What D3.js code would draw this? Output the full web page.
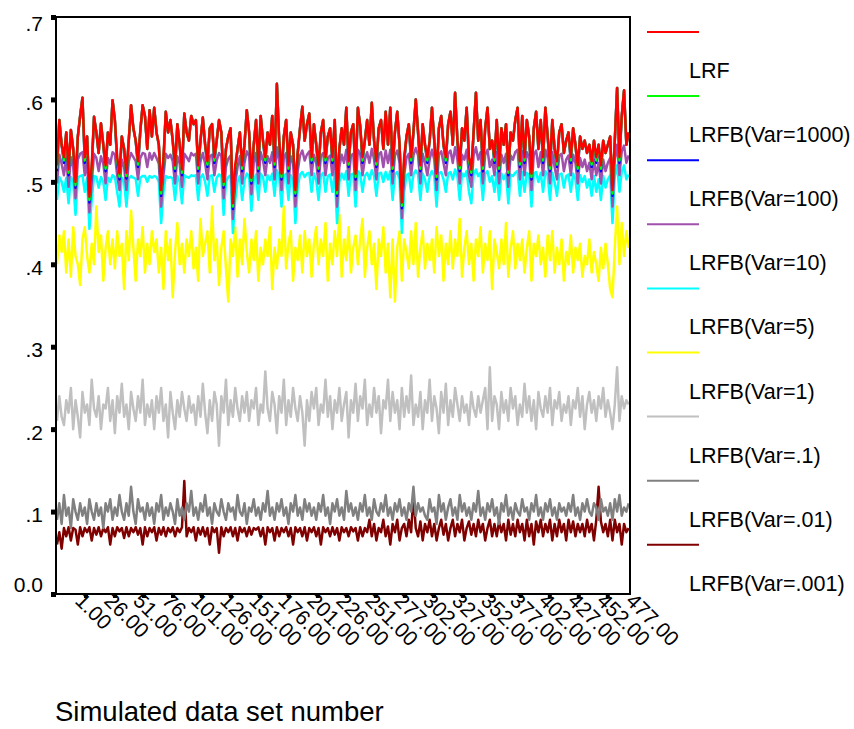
<!DOCTYPE html>
<html><head><meta charset="utf-8">
<script src="https://cdn.jsdelivr.net/npm/d3@7"></script>
<style>
body{margin:0;background:#fff}
svg{display:block}
text{font-family:"Liberation Sans",Arial,Helvetica,sans-serif;fill:#000}
</style>
</head><body><svg id="c" width="854" height="729"></svg>
<script>
// ---------- DATA ----------
const seriesNames = ["LRF","LRFB(Var=1000)","LRFB(Var=100)","LRFB(Var=10)","LRFB(Var=5)","LRFB(Var=1)","LRFB(Var=.1)","LRFB(Var=.01)","LRFB(Var=.001)"];
const tickLabels = ["1.00","26.00","51.00","76.00","101.00","126.00","151.00","176.00","201.00","226.00","251.00","277.00","302.00","327.00","352.00","377.00","402.00","427.00","452.00","477.00"];
const yTickValues = [0,.1,.2,.3,.4,.5,.6,.7];
const yTickLabels = ["0.0",".1",".2",".3",".4",".5",".6",".7"];

const lrf = [.52,.575,.545,.53,.56,.515,.563,.54,.50,.555,
.58,.602,.53,.555,.482,.52,.579,.56,.535,.571,
.545,.52,.56,.545,.599,.575,.53,.51,.555,.54,
.511,.55,.593,.565,.55,.525,.562,.593,.58,.54,
.587,.555,.59,.56,.545,.49,.53,.585,.56,.575,
.55,.52,.57,.545,.515,.583,.56,.55,.58,.57,
.575,.52,.55,.578,.545,.525,.565,.57,.53,.55,
.575,.56,.50,.54,.555,.565,.474,.52,.54,.56,
.52,.545,.587,.56,.505,.545,.575,.52,.58,.55,
.53,.56,.545,.58,.525,.619,.55,.51,.555,.575,
.52,.56,.545,.49,.535,.565,.591,.55,.57,.583,
.53,.57,.545,.52,.56,.575,.53,.555,.565,.53,
.575,.49,.54,.565,.545,.59,.525,.56,.57,.51,
.59,.568,.53,.55,.575,.545,.596,.55,.525,.565,
.575,.54,.585,.545,.59,.52,.56,.585,.545,.475,
.53,.555,.57,.53,.56,.60,.56,.52,.57,.545,
.53,.55,.59,.55,.51,.565,.58,.545,.53,.57,
.585,.545,.608,.55,.52,.565,.55,.59,.53,.515,
.56,.608,.55,.575,.52,.565,.59,.54,.55,.53,
.575,.52,.565,.545,.57,.515,.56,.55,.575,.59,
.525,.58,.53,.575,.555,.51,.565,.585,.54,.575,
.53,.59,.555,.52,.575,.54,.525,.56,.57,.535,
.55,.56,.53,.565,.545,.52,.555,.54,.55,.535,
.545,.525,.55,.53,.545,.52,.55,.535,.545,.555,
.49,.55,.614,.53,.58,.611,.545,.56];

const var1000 = [.516,.575,.545,.526,.56,.511,.563,.54,.496,.555,
.58,.602,.526,.555,.478,.516,.579,.56,.535,.571,
.545,.516,.56,.545,.599,.575,.526,.506,.555,.54,
.507,.55,.593,.565,.55,.521,.562,.593,.58,.54,
.587,.555,.59,.56,.545,.486,.526,.585,.56,.575,
.55,.516,.57,.545,.511,.583,.56,.55,.58,.57,
.575,.516,.55,.578,.545,.521,.565,.57,.526,.55,
.575,.56,.496,.54,.555,.565,.47,.516,.54,.56,
.516,.545,.587,.56,.501,.545,.575,.516,.58,.55,
.526,.56,.545,.58,.521,.619,.55,.506,.555,.575,
.516,.56,.545,.486,.535,.565,.591,.55,.57,.583,
.526,.57,.545,.516,.56,.575,.526,.555,.565,.526,
.575,.486,.54,.565,.545,.59,.521,.56,.57,.506,
.59,.568,.526,.55,.575,.545,.596,.55,.521,.565,
.575,.54,.585,.545,.59,.516,.56,.585,.545,.471,
.526,.555,.57,.526,.56,.60,.56,.516,.57,.545,
.526,.55,.59,.55,.506,.565,.58,.545,.526,.57,
.585,.545,.608,.55,.516,.565,.55,.59,.526,.511,
.56,.608,.55,.575,.516,.565,.59,.54,.55,.526,
.575,.516,.565,.545,.57,.511,.56,.55,.575,.59,
.521,.58,.526,.575,.555,.506,.565,.585,.54,.575,
.526,.59,.555,.516,.575,.54,.521,.56,.57,.535,
.55,.56,.526,.565,.545,.516,.555,.54,.55,.535,
.545,.521,.55,.526,.545,.516,.55,.535,.545,.555,
.486,.55,.614,.526,.58,.611,.545,.56];

const var100 = [.513,.575,.545,.523,.56,.508,.563,.54,.493,.555,
.58,.602,.523,.555,.475,.513,.579,.56,.535,.571,
.545,.513,.56,.545,.599,.575,.523,.503,.555,.54,
.504,.55,.593,.565,.55,.518,.562,.593,.58,.54,
.587,.555,.59,.56,.545,.483,.523,.585,.56,.575,
.55,.513,.57,.545,.508,.583,.56,.55,.58,.57,
.575,.513,.55,.578,.545,.518,.565,.57,.523,.55,
.575,.56,.493,.54,.555,.565,.467,.513,.54,.56,
.513,.545,.587,.56,.498,.545,.575,.513,.58,.55,
.523,.56,.545,.58,.518,.619,.55,.503,.555,.575,
.513,.56,.545,.483,.535,.565,.591,.55,.57,.583,
.523,.57,.545,.513,.56,.575,.523,.555,.565,.523,
.575,.483,.54,.565,.545,.59,.518,.56,.57,.503,
.59,.568,.523,.55,.575,.545,.596,.55,.518,.565,
.575,.54,.585,.545,.59,.513,.56,.585,.545,.468,
.523,.555,.57,.523,.56,.60,.56,.513,.57,.545,
.523,.55,.59,.55,.503,.565,.58,.545,.523,.57,
.585,.545,.608,.55,.513,.565,.55,.59,.523,.508,
.56,.608,.55,.575,.513,.565,.59,.54,.55,.523,
.575,.513,.565,.545,.57,.508,.56,.55,.575,.59,
.518,.58,.523,.575,.555,.503,.565,.585,.54,.575,
.523,.59,.555,.513,.575,.54,.518,.56,.57,.535,
.55,.56,.523,.565,.545,.513,.555,.54,.55,.535,
.545,.518,.55,.523,.545,.513,.55,.535,.545,.555,
.483,.55,.614,.523,.58,.611,.545,.56];

const var10 = [.498,.533,.522,.508,.529,.494,.53,.518,.48,.527,
.534,.536,.508,.527,.463,.498,.534,.529,.513,.531,
.522,.498,.529,.522,.536,.533,.508,.49,.527,.518,
.49,.525,.535,.53,.525,.503,.529,.535,.534,.518,
.535,.527,.535,.529,.522,.47,.508,.534,.529,.533,
.525,.498,.531,.522,.494,.534,.53,.525,.535,.532,
.534,.498,.525,.535,.522,.503,.531,.533,.508,.526,
.535,.531,.48,.518,.528,.532,.455,.498,.518,.531,
.498,.523,.537,.531,.485,.523,.535,.498,.536,.526,
.508,.531,.523,.536,.503,.542,.526,.49,.529,.535,
.498,.531,.523,.47,.513,.532,.538,.526,.533,.537,
.508,.533,.523,.498,.531,.535,.508,.529,.532,.508,
.536,.47,.518,.533,.523,.539,.503,.532,.534,.49,
.539,.534,.508,.527,.536,.523,.54,.527,.503,.533,
.536,.518,.538,.523,.539,.498,.532,.538,.523,.456,
.508,.529,.534,.508,.532,.541,.532,.498,.534,.523,
.508,.527,.539,.527,.49,.533,.537,.523,.508,.534,
.538,.523,.542,.527,.498,.533,.527,.539,.508,.494,
.532,.542,.527,.536,.498,.533,.539,.518,.527,.508,
.536,.498,.533,.523,.534,.494,.532,.527,.536,.539,
.503,.537,.508,.536,.529,.49,.533,.538,.518,.536,
.508,.539,.529,.498,.536,.518,.503,.532,.534,.513,
.527,.532,.508,.533,.523,.498,.529,.518,.527,.513,
.523,.503,.527,.508,.523,.498,.527,.513,.523,.529,
.47,.527,.545,.508,.537,.544,.523,.532];

const var5 = [.478,.506,.50,.488,.505,.474,.506,.50,.46,.505,
.507,.508,.488,.505,.443,.478,.507,.506,.493,.506,
.50,.478,.505,.50,.508,.506,.488,.47,.505,.50,
.47,.504,.507,.505,.504,.483,.505,.507,.507,.50,
.507,.505,.507,.506,.50,.45,.488,.507,.505,.506,
.504,.478,.507,.50,.474,.508,.506,.505,.508,.507,
.508,.478,.505,.509,.50,.483,.507,.508,.488,.505,
.509,.507,.46,.50,.506,.508,.438,.478,.50,.507,
.478,.502,.51,.507,.465,.502,.509,.478,.51,.506,
.488,.508,.502,.51,.483,.514,.506,.47,.507,.51,
.478,.508,.502,.45,.493,.509,.512,.506,.51,.511,
.488,.51,.502,.478,.508,.511,.488,.507,.509,.488,
.511,.45,.50,.51,.503,.513,.483,.509,.51,.47,
.513,.51,.488,.507,.511,.503,.514,.507,.483,.51,
.511,.50,.512,.503,.513,.478,.509,.512,.503,.438,
.488,.508,.51,.488,.509,.514,.509,.478,.51,.503,
.488,.507,.513,.507,.47,.51,.512,.503,.488,.51,
.512,.503,.515,.507,.478,.51,.507,.513,.488,.474,
.509,.515,.507,.511,.478,.51,.513,.50,.507,.488,
.511,.478,.51,.503,.51,.474,.509,.507,.511,.513,
.483,.512,.488,.511,.508,.47,.51,.512,.50,.511,
.488,.513,.508,.478,.511,.50,.483,.509,.51,.493,
.507,.509,.488,.51,.503,.478,.508,.50,.507,.493,
.503,.483,.507,.488,.503,.478,.507,.493,.503,.508,
.45,.507,.52,.488,.512,.52,.503,.509];

const var1 = [.40,.435,.415,.44,.39,.43,.385,.445,.41,.40,
.375,.43,.445,.41,.39,.425,.40,.47,.415,.435,
.38,.42,.44,.40,.43,.395,.44,.41,.425,.37,
.44,.405,.465,.42,.38,.43,.41,.445,.39,.425,
.40,.44,.415,.43,.39,.42,.37,.44,.405,.43,
.36,.415,.45,.40,.425,.39,.43,.41,.44,.395,
.42,.38,.455,.41,.425,.44,.39,.47,.405,.43,
.375,.42,.44,.395,.355,.43,.41,.445,.385,.43,
.40,.455,.415,.39,.43,.405,.44,.38,.42,.40,
.43,.41,.445,.37,.42,.395,.43,.41,.47,.395,
.425,.44,.38,.42,.405,.435,.39,.44,.41,.43,
.385,.425,.445,.40,.43,.41,.45,.38,.425,.40,
.44,.41,.46,.385,.43,.405,.445,.39,.42,.435,
.40,.43,.455,.385,.42,.44,.40,.425,.37,.43,
.41,.445,.39,.425,.36,.43,.355,.42,.44,.38,
.43,.415,.395,.44,.40,.45,.385,.42,.44,.395,
.425,.405,.43,.39,.445,.41,.435,.38,.425,.40,
.44,.395,.43,.41,.455,.385,.42,.44,.40,.425,
.38,.43,.41,.445,.39,.425,.405,.44,.37,.43,
.415,.395,.43,.40,.45,.385,.42,.44,.395,.425,
.405,.43,.39,.42,.44,.38,.425,.41,.435,.40,
.42,.385,.435,.405,.44,.39,.42,.40,.43,.38,
.415,.40,.435,.39,.42,.405,.425,.385,.41,.40,
.43,.39,.415,.40,.38,.42,.395,.425,.40,.37,
.36,.42,.47,.40,.45,.41,.44,.42];

const var01 = [.21,.24,.215,.205,.235,.22,.25,.20,.235,.215,
.19,.245,.22,.23,.205,.26,.225,.215,.24,.20,
.23,.225,.25,.21,.235,.195,.24,.22,.255,.215,
.23,.20,.245,.225,.21,.24,.22,.26,.205,.23,
.215,.235,.20,.24,.22,.25,.21,.23,.19,.245,
.22,.20,.235,.215,.245,.225,.21,.24,.22,.23,
.205,.24,.215,.255,.22,.195,.235,.21,.245,.23,
.18,.24,.22,.26,.205,.235,.215,.25,.225,.21,
.24,.22,.245,.21,.235,.225,.25,.205,.23,.22,
.27,.225,.21,.245,.23,.195,.24,.22,.26,.205,
.235,.215,.25,.225,.21,.24,.22,.18,.235,.21,
.245,.225,.25,.205,.23,.22,.26,.215,.24,.20,
.235,.22,.25,.21,.23,.245,.19,.235,.22,.255,
.21,.24,.225,.26,.205,.23,.215,.25,.22,.24,
.195,.235,.225,.26,.21,.245,.22,.235,.20,.25,
.215,.24,.22,.265,.205,.23,.215,.245,.20,.235,
.22,.26,.21,.24,.225,.195,.245,.22,.255,.205,
.235,.215,.25,.23,.21,.24,.22,.23,.205,.245,
.225,.215,.24,.22,.235,.25,.20,.275,.21,.24,
.23,.20,.245,.22,.235,.21,.25,.225,.24,.205,
.23,.215,.255,.22,.24,.21,.235,.20,.245,.225,
.215,.24,.22,.25,.205,.235,.225,.245,.21,.23,
.22,.24,.205,.235,.225,.25,.215,.24,.20,.23,
.245,.22,.235,.21,.24,.225,.25,.215,.235,.22,
.20,.23,.275,.21,.24,.225,.235,.23];

const var001 = [.09,.11,.085,.12,.095,.105,.08,.115,.10,.09,
.11,.095,.105,.085,.115,.10,.09,.11,.095,.105,
.08,.11,.10,.115,.09,.105,.095,.12,.10,.09,
.11,.095,.13,.10,.085,.115,.10,.105,.09,.11,
.095,.105,.085,.11,.10,.12,.09,.105,.095,.11,
.10,.085,.115,.095,.105,.09,.11,.10,.125,.095,
.105,.09,.11,.10,.12,.095,.105,.085,.11,.10,
.095,.115,.10,.09,.11,.10,.105,.09,.12,.10,
.095,.11,.085,.105,.10,.115,.095,.105,.09,.11,
.10,.125,.095,.105,.09,.11,.10,.115,.095,.105,
.085,.11,.10,.12,.095,.105,.09,.115,.10,.11,
.095,.105,.09,.11,.10,.12,.095,.105,.085,.11,
.10,.115,.095,.105,.09,.125,.10,.11,.095,.105,
.09,.11,.10,.12,.095,.105,.09,.115,.10,.095,
.11,.10,.12,.095,.105,.09,.11,.10,.115,.095,
.105,.09,.11,.10,.13,.095,.11,.10,.105,.095,
.09,.115,.10,.105,.085,.12,.10,.11,.09,.105,
.115,.095,.105,.09,.12,.10,.11,.095,.105,.09,
.11,.10,.125,.095,.105,.09,.11,.10,.115,.095,
.105,.085,.11,.10,.12,.095,.105,.09,.11,.10,
.095,.115,.10,.105,.09,.11,.10,.12,.095,.105,
.09,.11,.10,.115,.095,.105,.09,.11,.10,.105,
.095,.11,.10,.12,.095,.105,.09,.11,.10,.115,
.10,.095,.11,.105,.09,.115,.10,.105,.095,.11,
.09,.115,.10,.12,.095,.105,.10,.11];

const var0001 = [.06,.075,.055,.08,.07,.081,.065,.08,.078,.06,
.081,.07,.08,.075,.081,.065,.08,.072,.081,.07,
.08,.075,.081,.06,.08,.07,.081,.076,.08,.068,
.081,.07,.08,.075,.081,.072,.08,.06,.081,.07,
.08,.075,.081,.065,.08,.072,.081,.07,.08,.075,
.081,.07,.08,.075,.081,.137,.07,.08,.075,.081,
.065,.08,.072,.081,.07,.08,.06,.081,.075,.08,
.05,.081,.07,.08,.075,.081,.07,.08,.065,.081,
.075,.08,.07,.081,.072,.08,.078,.081,.07,.08,
.06,.081,.075,.08,.065,.081,.07,.08,.075,.081,
.07,.08,.06,.081,.075,.08,.07,.081,.065,.08,
.075,.081,.07,.08,.06,.081,.075,.08,.07,.081,
.072,.08,.065,.081,.075,.08,.07,.081,.076,.08,
.065,.081,.07,.08,.075,.09,.07,.085,.065,.08,
.075,.09,.07,.082,.06,.085,.075,.09,.065,.08,
.085,.07,.09,.075,.12,.08,.07,.088,.065,.085,
.075,.09,.07,.085,.065,.08,.09,.072,.085,.065,
.08,.09,.07,.085,.075,.09,.065,.08,.088,.072,
.085,.07,.09,.075,.085,.065,.08,.09,.07,.085,
.07,.088,.075,.085,.065,.09,.072,.085,.07,.09,
.075,.085,.065,.09,.07,.085,.06,.088,.075,.09,
.07,.085,.075,.09,.065,.085,.07,.09,.075,.085,
.065,.09,.075,.088,.07,.085,.075,.085,.07,.09,
.075,.085,.065,.09,.13,.088,.075,.085,.07,.09,
.065,.09,.075,.085,.06,.085,.075,.08];

const seriesValues = [lrf, var1000, var100, var10, var5, var1, var01, var001, var0001];
const seriesColors = ["#ff0000","#00ff00","#0000ff","#a150ac","#00ffff","#ffff00","#c0c0c0","#808080","#800000"];

// ---------- LAYOUT ----------
const plot = {left:56, right:630, top:17, bottom:594};
const caseSpan = 495;   // simulated data sets spanned by the category axis
const tickStep = 25;

const svg = d3.select("#c");
const x = d3.scaleLinear().domain([0, caseSpan]).range([plot.left + 1, plot.right + 1]);
const y = d3.scaleLinear().domain([0, 0.7]).range([plot.bottom, plot.top]);

svg.append("clipPath").attr("id","pc").append("rect")
  .attr("x", plot.left).attr("y", plot.top)
  .attr("width", plot.right - plot.left).attr("height", plot.bottom - plot.top);

const g = svg.append("g").attr("clip-path","url(#pc)");
const line = d3.line()
  .x((d,i,arr) => x(i * caseSpan / arr.length))
  .y(d => y(d));

// LRF drawn last (on top)
for (let s = seriesValues.length - 1; s >= 0; s--) {
  g.append("path")
    .datum(seriesValues[s])
    .attr("fill","none")
    .attr("stroke", seriesColors[s])
    .attr("stroke-width", 2.5)
    .attr("stroke-linejoin","round")
    .attr("d", line);
}

// frame
svg.append("rect")
  .attr("x", plot.left).attr("y", plot.top)
  .attr("width", plot.right - plot.left).attr("height", plot.bottom - plot.top)
  .attr("fill","none").attr("stroke","#000").attr("stroke-width",2);

// y axis
const yAxis = svg.append("g");
yTickValues.forEach((v,i) => {
  yAxis.append("rect").attr("x", plot.left - 5).attr("y", y(v) - 2)
    .attr("width", 5).attr("height", 5).attr("fill","#000");
  let dy = 10.5;
  if (i === 0) dy = -2.5;
  if (i === yTickValues.length - 1) dy = 13.5;
  yAxis.append("text").attr("x", 43).attr("y", y(v) + dy)
    .attr("text-anchor","end").attr("font-size", 21).text(yTickLabels[i]);
});

// x axis
const xAxis = svg.append("g");
tickLabels.forEach((lab,k) => {
  const tx = x((k + 1) * tickStep);
  if (tx < plot.right - 2) {
    xAxis.append("rect").attr("x", tx - 2).attr("y", plot.bottom)
      .attr("width", 4).attr("height", 4).attr("fill","#000");
  }
  xAxis.append("text")
    .attr("transform", `translate(${tx - 12},${plot.bottom + 8}) rotate(45)`)
    .attr("font-size", 21).text(lab);
});

// axis title
svg.append("text").attr("x", 55).attr("y", 721).attr("font-size", 27.5)
  .text("Simulated data set number");

// legend
const leg = svg.append("g");
seriesNames.forEach((name,i) => {
  const ly = 32 + i * 64.1;
  leg.append("line").attr("x1", 647).attr("x2", 699).attr("y1", ly).attr("y2", ly)
    .attr("stroke", seriesColors[i]).attr("stroke-width", 2);
  leg.append("text").attr("x", 689).attr("y", ly + 46).attr("font-size", 21.5).text(name);
});
</script>
</body></html>
